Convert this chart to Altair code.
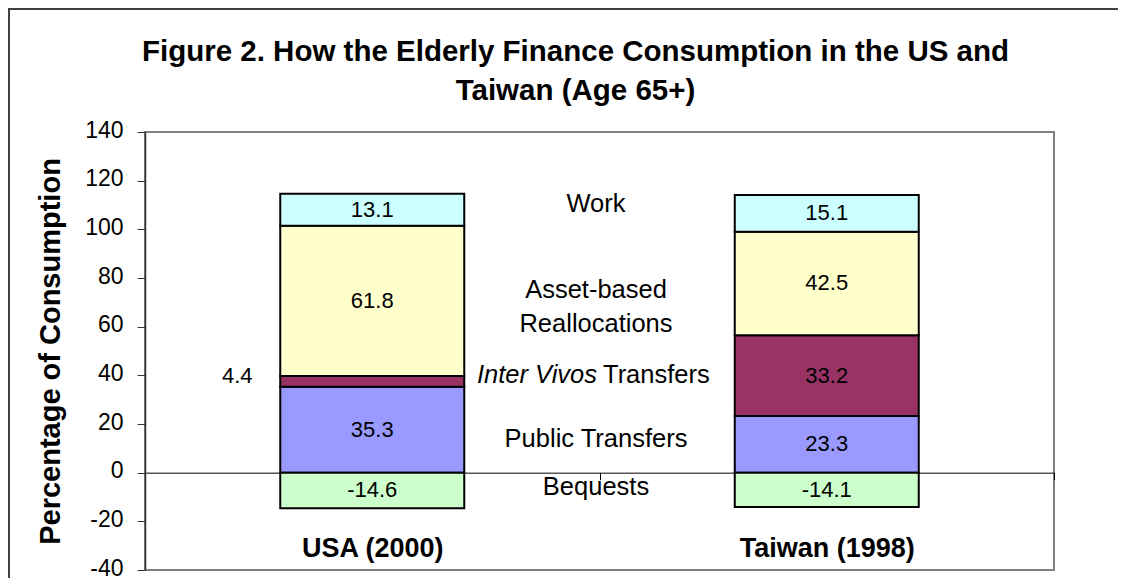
import altair as alt
import pandas as pd

FONT = "Liberation Sans"

countries = ["USA (2000)", "Taiwan (1998)"]
series = ["Public Transfers", "Inter Vivos Transfers", "Asset-based Reallocations", "Work", "Bequests"]
usa_values = [35.3, 4.4, 61.8, 13.1, -14.6]
taiwan_values = [23.3, 33.2, 42.5, 15.1, -14.1]
colors = ["#9999FF", "#993366", "#FFFFCC", "#CCFFFF", "#CCFFCC"]
y_ticks = [-40, -20, 0, 20, 40, 60, 80, 100, 120, 140]

# annotation labels placed between the two bars (text, y anchor in data units)
center_labels = ["Work", "Asset-based", "Reallocations", "Public Transfers", "Bequests"]
center_label_y = [107.0, 71.7, 58.0, 10.4, -9.2]
italic_part = ["Inter Vivos"]
plain_part = ["Transfers"]
inter_vivos_y = [36.7]

rows = []
for c, vals in zip(countries, [usa_values, taiwan_values]):
    for i, (s, v) in enumerate(zip(series, vals)):
        rows.append({"country": c, "series": s, "value": v, "ord": i})
df = pd.DataFrame(rows)

ann = pd.DataFrame({"label": center_labels, "y": center_label_y})
iv_a = pd.DataFrame({"label": italic_part, "y": inter_vivos_y})
iv_b = pd.DataFrame({"label": plain_part, "y": inter_vivos_y})

W, H = 909, 438
ymin, ymax = -40, 140
zero_px = H * ymax / (ymax - ymin)

yscale = alt.Scale(domain=[ymin, ymax], nice=False, zero=False)
yaxis = alt.Axis(
    values=y_ticks, title="Percentage of Consumption", grid=False,
    labelExpr="toString(datum.value)",
    labelFont=FONT, labelFontSize=23, labelColor="black", labelPadding=14, labelOffset=-2,
    tickSize=8, tickColor="#333333", domainColor="#333333", domainWidth=1.5,
    titleFont=FONT, titleFontSize=29, titleFontWeight="bold", titleColor="black",
    titlePadding=19,
)
xaxis = alt.Axis(
    title=None, orient="bottom", offset=-(H - zero_px), domainColor="black", domainWidth=1,
    tickColor="black", tickSize=7, tickBand="extent", labelAngle=0,
    labelFont=FONT, labelFontSize=27, labelFontWeight="bold", labelColor="black",
    labelPadding=56,
)
X = alt.X("country:N", sort=countries, scale=alt.Scale(paddingInner=0, paddingOuter=0), axis=xaxis)

LABEL_EXPR = "replace(format(datum.value, '.1f'), '\u2212', '-')"

base = alt.Chart(df).transform_stack(
    stack="value", groupby=["country"], as_=["v0", "v1"], sort=[alt.SortField("ord", order="ascending")]
).transform_calculate(mid="(datum.v0 + datum.v1) / 2", lab=LABEL_EXPR)

bars = base.mark_bar(size=184, stroke="black", strokeWidth=2).encode(
    x=X,
    y=alt.Y("v0:Q", scale=yscale, axis=yaxis),
    y2="v1:Q",
    color=alt.Color("series:N", scale=alt.Scale(domain=series, range=colors), legend=None),
)

vlabels = base.transform_filter("abs(datum.value) >= 5").mark_text(
    font=FONT, fontSize=22, color="black", baseline="middle"
).encode(x=X, y=alt.Y("mid:Q", scale=yscale, axis=yaxis), text="lab:N")

small_labels = base.transform_filter("abs(datum.value) < 5").mark_text(
    font=FONT, fontSize=22, color="black", baseline="middle", dx=-135, dy=-5
).encode(x=X, y=alt.Y("mid:Q", scale=yscale, axis=yaxis), text="lab:N")

ann_layer = alt.Chart(ann).mark_text(
    font=FONT, fontSize=25.5, color="black", align="center", baseline="alphabetic"
).encode(x=alt.value(451), y=alt.Y("y:Q", scale=yscale, axis=yaxis), text="label:N")

iv_a_layer = alt.Chart(iv_a).mark_text(
    font=FONT, fontSize=25.5, fontStyle="italic", color="black", align="right", baseline="alphabetic"
).encode(x=alt.value(452), y=alt.Y("y:Q", scale=yscale, axis=yaxis), text="label:N")

iv_b_layer = alt.Chart(iv_b).mark_text(
    font=FONT, fontSize=25.5, color="black", align="left", baseline="alphabetic"
).encode(x=alt.value(458), y=alt.Y("y:Q", scale=yscale, axis=yaxis), text="label:N")

frame = alt.Chart(pd.DataFrame({"a": [0]})).mark_rect(
    filled=False, stroke="#404040", strokeWidth=2
).encode(x=alt.value(-136), y=alt.value(-123), x2=alt.value(1400), y2=alt.value(900))

chart = alt.layer(frame, bars, vlabels, small_labels, ann_layer, iv_a_layer, iv_b_layer).properties(
    width=W, height=H,
    title=alt.TitleParams(
        text=["Figure 2. How the Elderly Finance Consumption in the US and", "Taiwan (Age 65+)"],
        font=FONT, fontSize=29.5, fontWeight="bold", color="black", anchor="middle", frame="group",
        lineHeight=39, dx=-24, dy=116, offset=18,
    ),
    autosize=alt.AutoSizeParams(type="none"),
    padding={"left": 137, "top": 124, "right": 64, "bottom": 8},
    background="white",
).configure_view(stroke="#808080", strokeWidth=2)

chart.save("out.html", embed_options={"renderer": "svg", "actions": False})
